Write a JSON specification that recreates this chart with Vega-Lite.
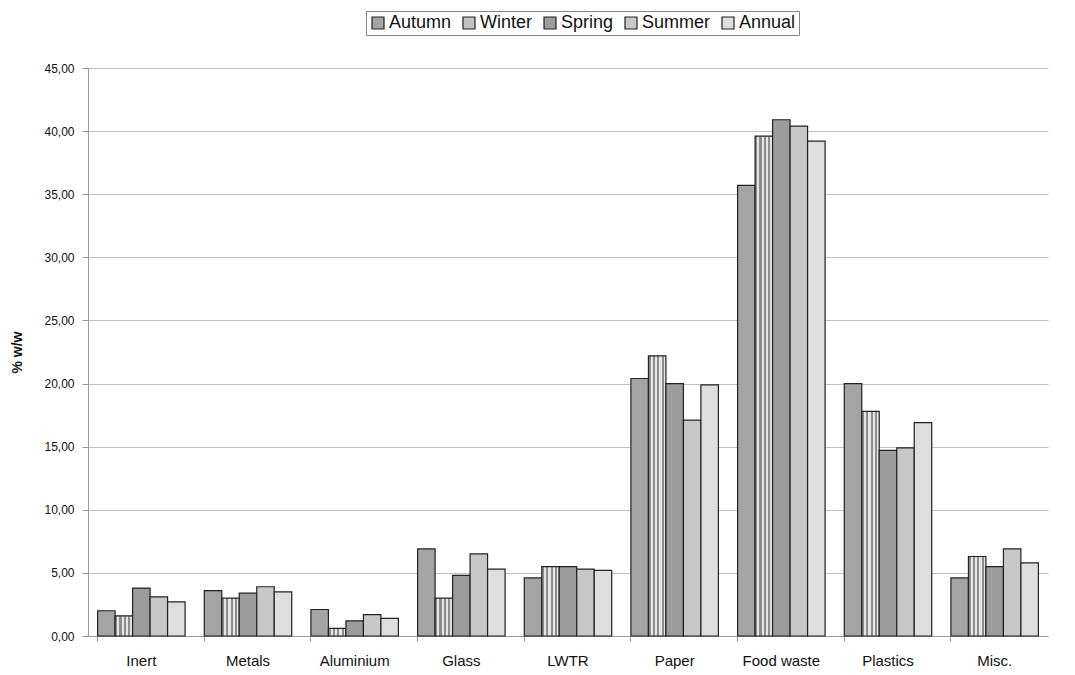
{
  "$schema": "https://vega.github.io/schema/vega-lite/v6.json",
  "width": 960,
  "height": 568,
  "autosize": {"type": "none"},
  "padding": {"left": 88, "top": 68, "right": 27, "bottom": 39},
  "background": "white",
  "data": {
    "values": [
      {"cat": "Inert", "season": "Autumn", "v": 2.0},
      {"cat": "Inert", "season": "Winter", "v": 1.6},
      {"cat": "Inert", "season": "Spring", "v": 3.8},
      {"cat": "Inert", "season": "Summer", "v": 3.1},
      {"cat": "Inert", "season": "Annual", "v": 2.7},
      {"cat": "Metals", "season": "Autumn", "v": 3.6},
      {"cat": "Metals", "season": "Winter", "v": 3.0},
      {"cat": "Metals", "season": "Spring", "v": 3.4},
      {"cat": "Metals", "season": "Summer", "v": 3.9},
      {"cat": "Metals", "season": "Annual", "v": 3.5},
      {"cat": "Aluminium", "season": "Autumn", "v": 2.1},
      {"cat": "Aluminium", "season": "Winter", "v": 0.6},
      {"cat": "Aluminium", "season": "Spring", "v": 1.2},
      {"cat": "Aluminium", "season": "Summer", "v": 1.7},
      {"cat": "Aluminium", "season": "Annual", "v": 1.4},
      {"cat": "Glass", "season": "Autumn", "v": 6.9},
      {"cat": "Glass", "season": "Winter", "v": 3.0},
      {"cat": "Glass", "season": "Spring", "v": 4.8},
      {"cat": "Glass", "season": "Summer", "v": 6.5},
      {"cat": "Glass", "season": "Annual", "v": 5.3},
      {"cat": "LWTR", "season": "Autumn", "v": 4.6},
      {"cat": "LWTR", "season": "Winter", "v": 5.5},
      {"cat": "LWTR", "season": "Spring", "v": 5.5},
      {"cat": "LWTR", "season": "Summer", "v": 5.3},
      {"cat": "LWTR", "season": "Annual", "v": 5.2},
      {"cat": "Paper", "season": "Autumn", "v": 20.4},
      {"cat": "Paper", "season": "Winter", "v": 22.2},
      {"cat": "Paper", "season": "Spring", "v": 20.0},
      {"cat": "Paper", "season": "Summer", "v": 17.1},
      {"cat": "Paper", "season": "Annual", "v": 19.9},
      {"cat": "Food waste", "season": "Autumn", "v": 35.7},
      {"cat": "Food waste", "season": "Winter", "v": 39.6},
      {"cat": "Food waste", "season": "Spring", "v": 40.9},
      {"cat": "Food waste", "season": "Summer", "v": 40.4},
      {"cat": "Food waste", "season": "Annual", "v": 39.2},
      {"cat": "Plastics", "season": "Autumn", "v": 20.0},
      {"cat": "Plastics", "season": "Winter", "v": 17.8},
      {"cat": "Plastics", "season": "Spring", "v": 14.7},
      {"cat": "Plastics", "season": "Summer", "v": 14.9},
      {"cat": "Plastics", "season": "Annual", "v": 16.9},
      {"cat": "Misc.", "season": "Autumn", "v": 4.6},
      {"cat": "Misc.", "season": "Winter", "v": 6.3},
      {"cat": "Misc.", "season": "Spring", "v": 5.5},
      {"cat": "Misc.", "season": "Summer", "v": 6.9},
      {"cat": "Misc.", "season": "Annual", "v": 5.8}
    ]
  },
  "mark": {"type": "bar", "stroke": "#222222", "strokeWidth": 1.2},
  "encoding": {
    "x": {
      "field": "cat",
      "type": "nominal",
      "sort": null,
      "scale": {"paddingInner": 0.18, "paddingOuter": 0.09},
      "axis": {
        "title": null,
        "labelAngle": 0,
        "labelFont": "Liberation Sans",
        "labelFontSize": 15,
        "labelColor": "#111111",
        "labelPadding": 12,
        "domainColor": "#999999",
        "tickColor": "#999999",
        "tickSize": 5,
        "bandPosition": 0,
        "grid": false
      }
    },
    "xOffset": {
      "field": "season",
      "type": "nominal",
      "sort": ["Autumn", "Winter", "Spring", "Summer", "Annual"],
      "scale": {"paddingInner": 0, "paddingOuter": 0}
    },
    "y": {
      "field": "v",
      "type": "quantitative",
      "scale": {"domain": [0, 45], "nice": false},
      "axis": {
        "title": "% w/w",
        "titleFont": "Liberation Sans",
        "titleFontSize": 14,
        "titleFontWeight": "bold",
        "titleColor": "#111111",
        "titlePadding": 19,
        "values": [0, 5, 10, 15, 20, 25, 30, 35, 40, 45],
        "labelExpr": "replace(format(datum.value, '.2f'), '.', ',')",
        "labelFont": "Liberation Sans",
        "labelFontSize": 12,
        "labelColor": "#111111",
        "labelPadding": 8,
        "tickSize": 6,
        "tickColor": "#999999",
        "domainColor": "#999999",
        "gridColor": "#c0c0c0",
        "gridWidth": 1.2
      }
    },
    "color": {
      "condition": {
        "test": "datum.season === 'Winter'",
        "value": {
          "gradient": "linear", "x1": 0, "x2": 1, "y1": 0, "y2": 0,
          "stops": [
            {"offset": 0.0, "color": "#8c8c8c"}, {"offset": 0.12, "color": "#8c8c8c"},
            {"offset": 0.12, "color": "#e6e6e6"}, {"offset": 0.25, "color": "#e6e6e6"},
            {"offset": 0.25, "color": "#8c8c8c"}, {"offset": 0.37, "color": "#8c8c8c"},
            {"offset": 0.37, "color": "#e6e6e6"}, {"offset": 0.5, "color": "#e6e6e6"},
            {"offset": 0.5, "color": "#8c8c8c"}, {"offset": 0.62, "color": "#8c8c8c"},
            {"offset": 0.62, "color": "#e6e6e6"}, {"offset": 0.75, "color": "#e6e6e6"},
            {"offset": 0.75, "color": "#8c8c8c"}, {"offset": 0.87, "color": "#8c8c8c"},
            {"offset": 0.87, "color": "#e6e6e6"}, {"offset": 1.0, "color": "#e6e6e6"}
          ]
        }
      },
      "field": "season",
      "type": "nominal",
      "sort": ["Autumn", "Winter", "Spring", "Summer", "Annual"],
      "scale": {
        "domain": ["Autumn", "Winter", "Spring", "Summer", "Annual"],
        "range": ["#a4a4a4", "#c2c2c2", "#9c9c9c", "#c8c8c8", "#dedede"]
      },
      "legend": {
        "title": null,
        "orient": "none",
        "direction": "horizontal",
        "legendX": 278,
        "legendY": -57,
        "symbolType": "square",
        "symbolSize": 144,
        "symbolStrokeColor": "#222222",
        "symbolStrokeWidth": 1.2,
        "labelFont": "Liberation Sans",
        "labelFontSize": 18,
        "labelColor": "#111111",
        "labelOffset": 2,
        "columnPadding": 8,
        "strokeColor": "#888888",
        "padding": 3
      }
    }
  },
  "config": {"view": {"stroke": null}}
}
